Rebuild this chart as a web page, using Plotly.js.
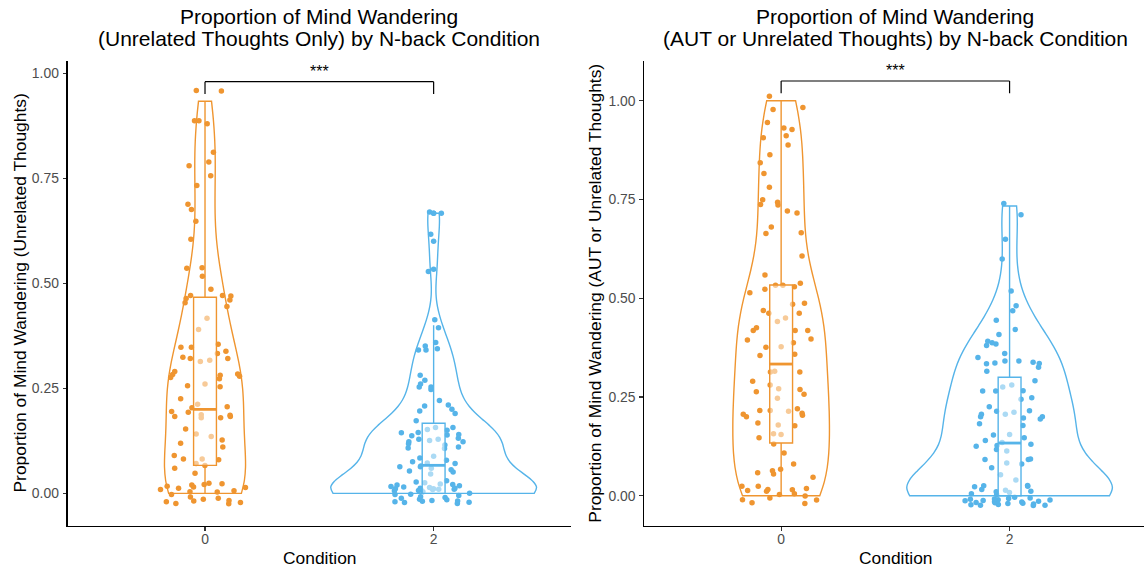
<!DOCTYPE html>
<html>
<head>
<meta charset="utf-8">
<script src="https://cdn.plot.ly/plotly-3.0.1.min.js"></script>
<style>
  html, body { margin: 0; padding: 0; background: #ffffff; }
  #chart { width: 1144px; height: 569px; }
</style>
</head>
<body>
<div id="chart"></div>
<script>
// ---------------- data ----------------
const conditions = ['0', '2'];
const conditionColors = ['#EF9530', '#56B4E9'];
const panelTitles = [
  ['Proportion of Mind Wandering', '(Unrelated Thoughts Only) by N-back Condition'],
  ['Proportion of Mind Wandering', '(AUT or Unrelated Thoughts) by N-back Condition']
];
const yAxisTitles = [
  'Proportion of Mind Wandering (Unrelated Thoughts)',
  'Proportion of Mind Wandering (AUT or Unrelated Thoughts)'
];
const xAxisTitle = 'Condition';
const sigLabel = '***';
const yTickVals = [0, 0.25, 0.5, 0.75, 1];
const yTickText = ['0.00', '0.25', '0.50', '0.75', '1.00'];

// observed (vertically jittered) proportions, one per participant
const unrelated_cond0 = [0.959, 0.958, 0.887, 0.887, 0.880, 0.812, 0.789, 0.780, 0.756, 0.733,
  0.688, 0.676, 0.648, 0.605, 0.537, 0.536, 0.517, 0.486, 0.471, 0.470, 0.464, 0.471, 0.460,
  0.454, 0.445, 0.417, 0.390, 0.348, 0.348, 0.355, 0.338, 0.333, 0.317, 0.324, 0.321, 0.321,
  0.314, 0.279, 0.273, 0.283, 0.281, 0.290, 0.284, 0.276, 0.260, 0.254, 0.256, 0.204, 0.225,
  0.193, 0.206, 0.187, 0.180, 0.180, 0.186, 0.183, 0.195, 0.183, 0.212, 0.141, 0.153, 0.119,
  0.127, 0.110, 0.135, 0.071, 0.080, 0.090, 0.082, 0.082, 0.066, 0.060, 0.048, 0.017, 0.015,
  0.012, 0.014, 0.021, 0.023, 0.020, 0.009, 0.024, 0.006, -0.003, -0.012, -0.020, -0.024,
  -0.018, -0.014, 0.004, -0.009, -0.025, -0.022, -0.017, 0.003];
const unrelated_cond2 = [0.667, 0.670, 0.617, 0.528, 0.413, 0.394, 0.359, 0.351, 0.341, 0.344,
  0.341, 0.281, 0.269, 0.253, 0.253, 0.260, 0.247, 0.221, 0.200, 0.210, 0.190, 0.196, 0.208,
  0.173, 0.144, 0.152, 0.157, 0.139, 0.129, 0.137, 0.123, 0.157, 0.118, 0.123, 0.129, 0.107,
  0.108, 0.110, 0.145, 0.150, 0.115, 0.126, 0.140, 0.131, 0.075, 0.072, 0.065, 0.053, 0.063,
  0.084, 0.071, 0.060, 0.079, 0.056, 0.063, 0.051, 0.088, 0.046, 0.016, 0.011, 0.009, 0.010,
  0.018, 0.006, 0.027, 0.012, 0.015, 0.010, 0.021, 0.011, -0.002, -0.014, -0.017, -0.003,
  0.010, -0.015, 0.030, 0.025, 0.022, 0.012, -0.005, 0.020, 0.007, -0.020, -0.022, -0.024,
  -0.018, -0.021, -0.010, -0.008, 0.004, 0.000, -0.012, 0.014, -0.019];
const autUnrel_cond0 = [1.011, 0.983, 0.978, 0.945, 0.931, 0.927, 0.911, 0.906, 0.888, 0.863,
  0.843, 0.816, 0.781, 0.736, 0.737, 0.721, 0.743, 0.749, 0.716, 0.680, 0.666, 0.664, 0.607,
  0.559, 0.523, 0.533, 0.538, 0.529, 0.533, 0.514, 0.485, 0.487, 0.469, 0.462, 0.462, 0.450,
  0.441, 0.425, 0.418, 0.418, 0.418, 0.397, 0.394, 0.387, 0.376, 0.377, 0.358, 0.355, 0.313,
  0.313, 0.315, 0.290, 0.280, 0.269, 0.263, 0.271, 0.257, 0.247, 0.214, 0.204, 0.216, 0.206,
  0.216, 0.220, 0.209, 0.200, 0.179, 0.184, 0.177, 0.157, 0.147, 0.155, 0.131, 0.108, 0.080,
  0.067, 0.058, 0.055, 0.063, 0.047, 0.024, 0.018, 0.013, 0.005, 0.024, 0.011, -0.010,
  -0.018, -0.020, -0.011, -0.001, 0.015, 0.016, -0.006, 0.003];
const autUnrel_cond2 = [0.740, 0.711, 0.649, 0.599, 0.518, 0.468, 0.481, 0.444, 0.421, 0.408,
  0.391, 0.387, 0.380, 0.384, 0.360, 0.341, 0.334, 0.338, 0.336, 0.335, 0.341, 0.325, 0.315,
  0.350, 0.291, 0.280, 0.266, 0.275, 0.265, 0.265, 0.244, 0.248, 0.225, 0.215, 0.206, 0.194,
  0.214, 0.200, 0.182, 0.200, 0.197, 0.178, 0.206, 0.211, 0.154, 0.147, 0.155, 0.125, 0.117,
  0.127, 0.113, 0.140, 0.135, 0.130, 0.092, 0.093, 0.092, 0.083, 0.080, 0.071, 0.053, 0.040,
  0.016, 0.025, 0.024, 0.026, 0.023, -0.008, -0.012, -0.007, -0.019, -0.013, -0.022, -0.025,
  -0.010, -0.018, -0.024, 0.005, -0.016, -0.021, -0.015, -0.024, -0.006, 0.011, 0.003,
  -0.011, -0.004, 0.010, -0.020, -0.017, 0.008, -0.023, 0.014, -0.009, -0.014];

// proportions are out of 15 thought probes: recover the un-jittered value
const PROBES = 15;
const toProportion = arr => arr.map(v => Math.round(v * PROBES) / PROBES);

// ggplot-style nrd0 bandwidth (type-7 quantiles)
function q7(s, p) { const h = (s.length - 1) * p, lo = Math.floor(h), hi = Math.ceil(h); return s[lo] + (h - lo) * (s[hi] - s[lo]); }
function nrd0(vals) {
  const s = [...vals].sort((a, b) => a - b), n = s.length;
  const m = s.reduce((a, b) => a + b, 0) / n;
  const sd = Math.sqrt(s.reduce((a, b) => a + (b - m) * (b - m), 0) / (n - 1));
  const iqr = q7(s, 0.75) - q7(s, 0.25);
  return 0.9 * Math.min(sd, iqr / 1.34) * Math.pow(n, -0.2);
}
function median(vals) { const s = [...vals].sort((a, b) => a - b); return q7(s, 0.5); }

// ---------------- build traces ----------------
const panels = [
  { groups: [unrelated_cond0, unrelated_cond2], xa: 'x', ya: 'y', sg: 'left' },
  { groups: [autUnrel_cond0, autUnrel_cond2], xa: 'x2', ya: 'y2', sg: 'right' }
];
const data = [];
const medianShapes = [];
panels.forEach(p => {
  p.groups.forEach((obs, g) => {
    const vals = toProportion(obs);
    const col = conditionColors[g];
    const xs = vals.map(() => conditions[g]);
    data.push({
      type: 'violin', xaxis: p.xa, yaxis: p.ya, x: xs, y: vals,
      scalegroup: p.sg, scalemode: 'width', spanmode: 'hard',
      bandwidth: nrd0(vals), points: false, box: { visible: false }, meanline: { visible: false },
      line: { color: col, width: 1.4 }, fillcolor: 'rgba(0,0,0,0)',
      hoverinfo: 'skip', showlegend: false
    });
    data.push({
      type: 'box', xaxis: p.xa, yaxis: p.ya, x: obs.map(() => conditions[g]), y: obs,
      width: 0.4, boxpoints: 'all', jitter: 1, pointpos: 0, whiskerwidth: 0,
      line: { color: col, width: 0 }, fillcolor: 'rgba(0,0,0,0)',
      marker: { color: col, size: 5.5, opacity: 1 },
      hoverinfo: 'skip', showlegend: false
    });
    data.push({
      type: 'box', xaxis: p.xa, yaxis: p.ya, x: xs, y: vals,
      width: 0.1, boxpoints: 'outliers', quartilemethod: 'inclusive', whiskerwidth: 0,
      line: { color: col, width: 1.4 }, fillcolor: 'rgba(255,255,255,0.5)',
      marker: { color: col, size: 5.5, opacity: 1 },
      hoverinfo: 'skip', showlegend: false
    });
    // thicker median bar (ggplot fattens the median line)
    const m = median(vals);
    medianShapes.push({ type: 'line', xref: p.xa, yref: p.ya, x0: g - 0.05, x1: g + 0.05,
      y0: m, y1: m, line: { color: col, width: 2.8 } });
  });
});

// ---------------- layout ----------------
const W = 1144, H = 569;
const px = v => v / W, py = v => 1 - v / H;
const yDom = [py(525.5), py(60.5)];
const axisCommon = {
  showline: true, linecolor: '#000000', linewidth: 1.3, mirror: false,
  showgrid: false, zeroline: false, ticks: 'outside', ticklen: 3.7, tickwidth: 1.1,
  tickcolor: '#333333', tickfont: { size: 13.9, color: '#4D4D4D' }
};
const xCommon = Object.assign({}, axisCommon, {
  type: 'category', categoryorder: 'array', categoryarray: conditions, ticklabelstandoff: -3
});
const yCommon = Object.assign({}, axisCommon, {
  tickvals: yTickVals, ticktext: yTickText, ticklabelstandoff: 1
});

const panelGeom = [
  { x0: 67.7, x1: 570.8, xr: [-0.6006, 1.6], yr: [-0.0766, 1.0305], tick: 0.951, bar: 0.980, star: 1.0043, cx: 319.3, ytx: 19.5 },
  { x0: 644.3, x1: 1144, xr: [-0.599, 1.5884], yr: [-0.0754, 1.1018], tick: 1.0187, bar: 1.0499, star: 1.0754, cx: 895.4, ytx: 594.7 }
];

const layout = {
  width: W, height: H, margin: { l: 0, r: 0, t: 0, b: 0 },
  paper_bgcolor: '#ffffff', plot_bgcolor: 'rgba(0,0,0,0)',
  font: { family: 'Liberation Sans, Arial, sans-serif', color: '#000000' },
  showlegend: false, boxmode: 'overlay', violinmode: 'overlay', violingap: 0.1, violingroupgap: 0,
  xaxis: Object.assign({}, xCommon, { domain: [px(panelGeom[0].x0), px(panelGeom[0].x1)], range: panelGeom[0].xr, anchor: 'y' }),
  yaxis: Object.assign({}, yCommon, { domain: yDom, range: panelGeom[0].yr, anchor: 'x' }),
  xaxis2: Object.assign({}, xCommon, { domain: [px(panelGeom[1].x0), 1], range: panelGeom[1].xr, anchor: 'y2' }),
  yaxis2: Object.assign({}, yCommon, { domain: yDom, range: panelGeom[1].yr, anchor: 'x2' }),
  shapes: medianShapes.slice(), annotations: []
};

panelGeom.forEach((g, i) => {
  const xr = i === 0 ? 'x' : 'x2', yr = i === 0 ? 'y' : 'y2';
  const ln = { color: '#000000', width: 1.2 };
  layout.shapes.push(
    { type: 'line', xref: xr, yref: yr, x0: 0, x1: 0, y0: g.tick, y1: g.bar, line: ln },
    { type: 'line', xref: xr, yref: yr, x0: 0, x1: 1, y0: g.bar, y1: g.bar, line: ln },
    { type: 'line', xref: xr, yref: yr, x0: 1, x1: 1, y0: g.tick, y1: g.bar, line: ln }
  );
  layout.annotations.push(
    { xref: xr, yref: yr, x: 0.5, y: g.star, text: sigLabel, showarrow: false,
      xanchor: 'center', yanchor: 'middle', font: { size: 16, color: '#000000' } },
    { xref: 'paper', yref: 'paper', x: px(g.cx), y: py(16.9), text: panelTitles[i][0], showarrow: false,
      xanchor: 'center', yanchor: 'middle', font: { size: 21, color: '#000000' } },
    { xref: 'paper', yref: 'paper', x: px(g.cx), y: py(38.6), text: panelTitles[i][1], showarrow: false,
      xanchor: 'center', yanchor: 'middle', font: { size: 21, color: '#000000' } },
    { xref: 'paper', yref: 'paper', x: px(g.cx), y: py(558.1), text: xAxisTitle, showarrow: false,
      xanchor: 'center', yanchor: 'middle', font: { size: 17.4, color: '#000000' } },
    { xref: 'paper', yref: 'paper', x: px(g.ytx), y: py(293), text: yAxisTitles[i], showarrow: false,
      textangle: -90, xanchor: 'center', yanchor: 'middle', font: { size: 17.4, color: '#000000' } }
  );
});

Plotly.newPlot('chart', data, layout, { staticPlot: true, displayModeBar: false });
</script>
</body>
</html>
